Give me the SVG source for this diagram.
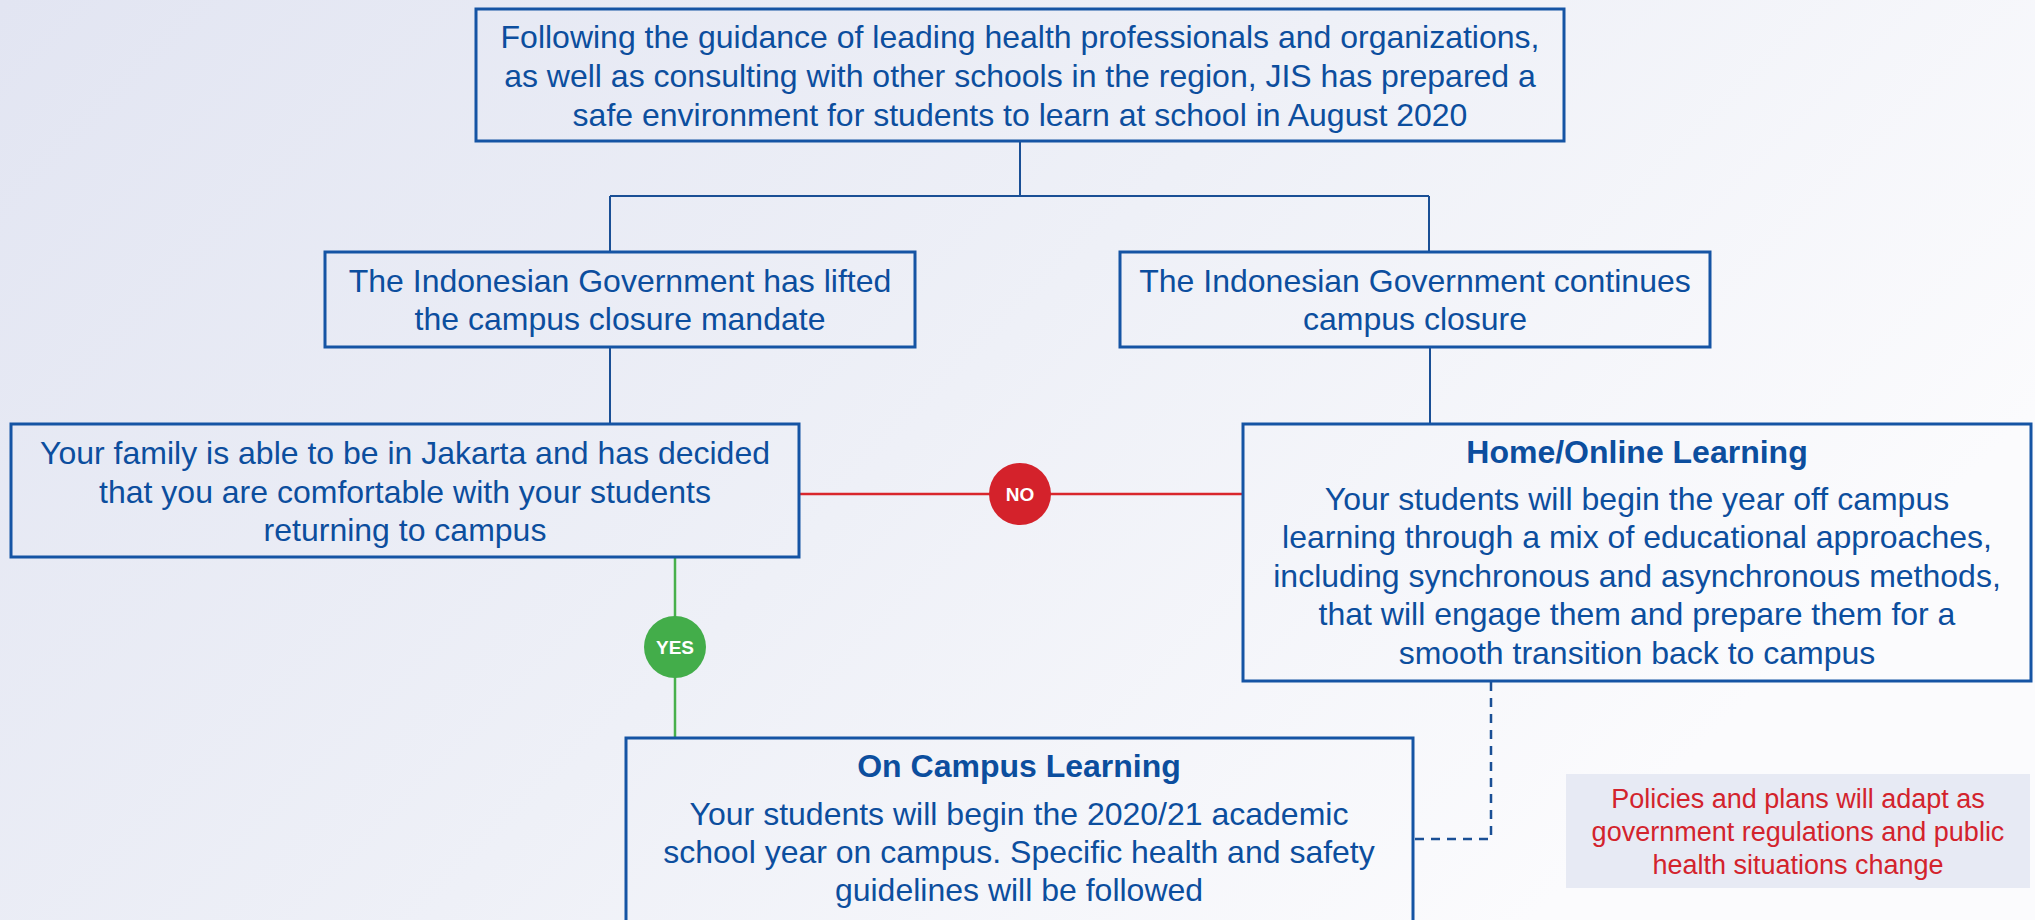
<svg xmlns="http://www.w3.org/2000/svg" width="2035" height="920" viewBox="0 0 2035 920">
<defs>
<linearGradient id="bg" x1="0" y1="0" x2="1" y2="0.45">
<stop offset="0" stop-color="#e2e5f2"/>
<stop offset="0.55" stop-color="#eef0f7"/>
<stop offset="1" stop-color="#fbfbfd"/>
</linearGradient>
<style>
.box{fill:none;stroke:#1554a4;stroke-width:3}
.t{font-family:"Liberation Sans",Arial,sans-serif;font-size:32px;fill:#0c4e9e;text-anchor:middle}
.b{font-weight:bold}
.ln{stroke:#1a4f95;stroke-width:2;fill:none}
.note{font-family:"Liberation Sans",Arial,sans-serif;font-size:27px;fill:#d3232c;text-anchor:middle}
.badge{font-family:"Liberation Sans",Arial,sans-serif;font-size:19px;font-weight:bold;fill:#ffffff;text-anchor:middle}
</style>
</defs>
<rect x="0" y="0" width="2035" height="920" fill="url(#bg)"/>

<g id="connectors">
<path class="ln" d="M1020 140 V196 M610 196 H1429 M610 196 V252 M1429 196 V252 M610 348 V424 M1430 348 V424"/>
<line x1="799" y1="494" x2="1243" y2="494" stroke="#d9262c" stroke-width="2.5"/>
<line x1="675" y1="558" x2="675" y2="738" stroke="#47b04b" stroke-width="2.5"/>
<path d="M1491 682 V839 H1413" fill="none" stroke="#1a4f95" stroke-width="2.5" stroke-dasharray="9 7"/>
</g>

<g id="no-badge">
<circle cx="1020" cy="494" r="31" fill="#d4222b"/>
<text class="badge" x="1020" y="501">NO</text>
</g>
<g id="yes-badge">
<circle cx="675" cy="647" r="31" fill="#43ad4a"/>
<text class="badge" x="675" y="654">YES</text>
</g>

<g id="top">
<rect class="box" x="476" y="9" width="1088" height="132"/>
<text class="t" x="1020" y="48">Following the guidance of leading health professionals and organizations,</text>
<text class="t" x="1020" y="87">as well as consulting with other schools in the region, JIS has prepared a</text>
<text class="t" x="1020" y="126">safe environment for students to learn at school in August 2020</text>
</g>

<g id="gov-lifted">
<rect class="box" x="325" y="252" width="590" height="95"/>
<text class="t" x="620" y="292">The Indonesian Government has lifted</text>
<text class="t" x="620" y="330">the campus closure mandate</text>
</g>

<g id="gov-continues">
<rect class="box" x="1120" y="252" width="590" height="95"/>
<text class="t" x="1415" y="292">The Indonesian Government continues</text>
<text class="t" x="1415" y="330">campus closure</text>
</g>

<g id="family">
<rect class="box" x="11" y="424" width="788" height="133"/>
<text class="t" x="405" y="464">Your family is able to be in Jakarta and has decided</text>
<text class="t" x="405" y="503">that you are comfortable with your students</text>
<text class="t" x="405" y="541">returning to campus</text>
</g>

<g id="home">
<rect class="box" x="1243" y="424" width="788" height="257"/>
<text class="t b" x="1637" y="463">Home/Online Learning</text>
<text class="t" x="1637" y="510">Your students will begin the year off campus</text>
<text class="t" x="1637" y="548">learning through a mix of educational approaches,</text>
<text class="t" x="1637" y="587">including synchronous and asynchronous methods,</text>
<text class="t" x="1637" y="625">that will engage them and prepare them for a</text>
<text class="t" x="1637" y="664">smooth transition back to campus</text>
</g>

<g id="campus">
<rect class="box" x="626" y="738" width="787" height="200"/>
<text class="t b" x="1019" y="777">On Campus Learning</text>
<text class="t" x="1019" y="825">Your students will begin the 2020/21 academic</text>
<text class="t" x="1019" y="863">school year on campus. Specific health and safety</text>
<text class="t" x="1019" y="901">guidelines will be followed</text>
</g>

<g id="note">
<rect x="1566" y="774" width="464" height="114" fill="#e7eaf4"/>
<text class="note" x="1798" y="808">Policies and plans will adapt as</text>
<text class="note" x="1798" y="841">government regulations and public</text>
<text class="note" x="1798" y="874">health situations change</text>
</g>
</svg>
